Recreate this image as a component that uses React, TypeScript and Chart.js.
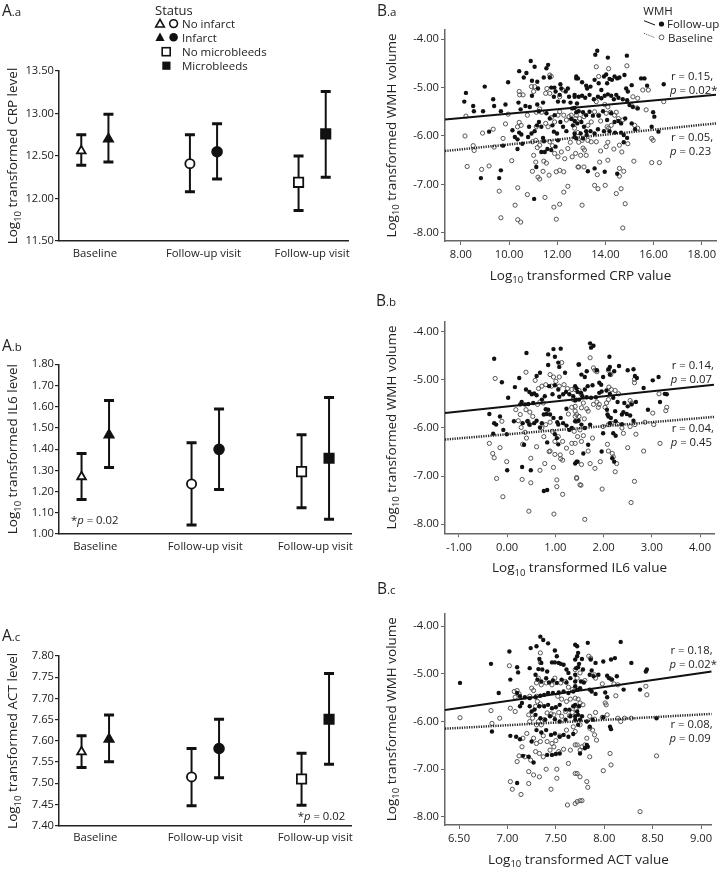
import React, { useEffect, useRef } from 'react';
import { Chart, registerables } from 'chart.js';
Chart.register(...registerables);

const FONT = '"Open Sans", "Noto Sans", sans-serif';
const TEXT = '#222';

// ---------- A panels: group means with error bars ----------
const GROUPS = ['Baseline', 'Follow-up visit', 'Follow-up visit'];
const GROUP_OF = [0, 0, 1, 1, 2, 2];
const SIDE = [-1, 1, -1, 1, -1, 1];
const MARKERS = ['triangle', 'triangle', 'circle', 'circle', 'rect', 'rect'];
const FILLED = [false, true, false, true, false, true];
const MARKER_RADIUS = [5, 5.3, 4.6, 4.9, 6.6, 6.6];

const CRP_MEAN = [12.56, 12.70, 12.41, 12.55, 12.19, 12.76];
const CRP_LOW = [12.39, 12.43, 12.08, 12.23, 11.86, 12.25];
const CRP_HIGH = [12.75, 12.99, 12.75, 12.88, 12.50, 13.26];
const CRP_TICKS = [11.5, 12.0, 12.5, 13.0, 13.5];

const IL6_MEAN = [1.27, 1.467, 1.236, 1.399, 1.294, 1.357];
const IL6_LOW = [1.163, 1.313, 1.042, 1.21, 1.124, 1.069];
const IL6_HIGH = [1.379, 1.629, 1.43, 1.589, 1.468, 1.644];
const IL6_TICKS = [1.0, 1.1, 1.2, 1.3, 1.4, 1.5, 1.6, 1.7, 1.8];

const ACT_MEAN = [7.574, 7.604, 7.515, 7.582, 7.510, 7.651];
const ACT_LOW = [7.537, 7.551, 7.447, 7.513, 7.448, 7.545];
const ACT_HIGH = [7.612, 7.661, 7.582, 7.651, 7.571, 7.759];
const ACT_TICKS = [7.40, 7.45, 7.50, 7.55, 7.60, 7.65, 7.70, 7.75, 7.80];

// ---------- B panels: scatter of WMH volume ----------
const WMH_TICKS = [-8, -7, -6, -5, -4];
const CRP_X_TICKS = [8, 10, 12, 14, 16, 18];
const IL6_X_TICKS = [-1, 0, 1, 2, 3, 4];
const ACT_X_TICKS = [6.5, 7, 7.5, 8, 8.5, 9];

const CRP_FOLLOWUP = [
[8.21,-5.11],[8.14,-5.29],[8.51,-5.38],[8.54,-5.49],[8.99,-4.98],[8.92,-5.49],[9.34,-5.24],[9.38,-5.38],[9.66,-5.49],[9.85,-5.35],[9.96,-4.89],[10.42,-4.66],[10.61,-4.79],[10.72,-4.70],[10.90,-4.45],[11.06,-4.57],[10.39,-5.31],[10.48,-5.45],[10.68,-5.38],[10.95,-4.86],[11.17,-4.88],[11.20,-5.02],[10.95,-5.17],[10.86,-5.40],[11.17,-5.35],[11.24,-5.49],[11.41,-5.31],[11.55,-4.60],[11.62,-4.53],[11.44,-4.79],[11.69,-4.79],[11.75,-5.00],[11.88,-5.00],[11.93,-5.08],[11.86,-5.19],[12.03,-5.29],[12.10,-5.15],[12.13,-4.93],[12.17,-5.02],[12.27,-5.29],[12.35,-5.08],[12.44,-5.02],[12.49,-5.19],[12.55,-5.31],[12.62,-5.43],[12.79,-4.81],[12.72,-5.19],[12.82,-5.33],[12.79,-5.51],[10.14,-5.88],[10.24,-6.02],[10.42,-5.93],[10.51,-5.97],[10.35,-6.07],[10.55,-6.16],[10.79,-6.02],[10.83,-5.81],[10.93,-5.95],[11.06,-5.90],[11.16,-5.78],[11.24,-5.71],[11.34,-5.81],[11.41,-6.04],[11.55,-5.53],[11.69,-5.64],[11.80,-5.78],[11.86,-5.91],[11.99,-5.95],[12.03,-6.09],[11.93,-6.22],[11.75,-6.29],[11.48,-6.33],[11.34,-6.33],[11.45,-6.11],[11.59,-6.27],[11.89,-5.57],[12.13,-5.71],[12.24,-5.81],[12.38,-5.90],[12.58,-5.65],[12.65,-5.78],[12.72,-5.95],[12.79,-6.05],[10.35,-6.27],[9.17,-5.91],[9.75,-6.20],[9.66,-6.71],[9.59,-6.87],[8.83,-6.87],[11.04,-7.30],[11.13,-6.64],
[13.66,-4.24],[13.58,-4.32],[14.10,-4.38],[14.89,-4.34],[12.79,-4.77],[12.86,-4.81],[13.03,-4.89],[13.20,-4.96],[13.24,-5.02],[13.38,-4.98],[13.55,-4.84],[13.72,-4.91],[13.83,-5.05],[13.94,-4.77],[14.03,-4.73],[14.07,-4.91],[14.17,-4.82],[14.27,-4.84],[14.38,-4.77],[14.49,-4.81],[14.58,-4.79],[14.79,-4.74],[14.86,-5.02],[14.93,-5.08],[15.09,-4.95],[15.48,-4.81],[15.62,-4.81],[15.73,-4.96],[16.42,-4.93],[12.72,-5.15],[12.89,-5.19],[13.03,-5.17],[13.16,-5.21],[13.34,-5.15],[13.52,-5.24],[13.69,-5.19],[13.83,-5.22],[13.97,-5.17],[14.10,-5.14],[14.24,-5.17],[14.35,-5.24],[14.45,-5.15],[14.54,-5.21],[14.72,-5.24],[14.90,-5.26],[15.00,-5.36],[15.14,-5.40],[15.34,-5.43],[12.72,-5.42],[12.89,-5.49],[13.07,-5.51],[13.20,-5.57],[13.34,-5.50],[13.48,-5.58],[13.72,-5.58],[13.90,-5.49],[14.07,-5.67],[14.24,-5.53],[14.38,-5.71],[14.54,-5.69],[14.65,-5.74],[14.82,-5.64],[15.09,-5.74],[15.23,-5.86],[15.98,-5.51],[16.03,-5.60],[12.72,-5.69],[12.83,-5.74],[13.00,-5.71],[13.11,-5.81],[13.20,-5.90],[13.38,-5.90],[13.55,-5.95],[13.69,-5.86],[13.94,-5.90],[14.17,-5.90],[14.40,-5.93],[14.65,-5.93],[14.76,-5.98],[14.90,-6.04],[14.76,-6.13],[15.92,-5.81],[16.20,-5.91],[12.72,-6.02],[12.97,-5.95],[13.07,-6.05],[13.22,-5.98],[13.27,-6.73],[13.55,-6.67],[13.97,-6.74],[14.49,-6.78]
];
const CRP_BASELINE = [
[8.17,-6.00],[8.21,-5.59],[8.51,-6.20],[8.55,-6.30],[8.26,-6.63],[8.90,-5.94],[9.34,-5.86],[8.86,-6.69],[9.17,-6.62],[9.38,-6.23],[9.75,-6.05],[9.85,-5.75],[9.96,-5.55],[9.59,-7.14],[9.66,-7.69],[10.11,-6.51],[10.36,-7.07],[10.25,-7.43],[10.36,-7.73],[10.48,-7.78],[10.76,-7.21],[10.35,-5.81],[10.42,-5.72],[10.50,-5.78],[10.44,-5.15],[10.58,-5.15],[10.42,-5.08],[10.93,-4.98],[11.06,-4.98],[11.02,-5.08],[10.76,-5.57],[11.13,-5.51],[11.27,-5.44],[11.35,-5.51],[10.97,-6.12],[11.11,-6.09],[11.17,-6.24],[11.27,-6.19],[11.02,-6.40],[11.11,-6.54],[11.20,-6.85],[11.27,-6.89],[11.44,-6.52],[11.55,-6.56],[10.97,-6.73],[11.41,-6.73],[11.66,-6.81],[11.96,-6.74],[12.10,-6.71],[12.27,-6.74],[11.49,-7.27],[11.86,-7.47],[12.10,-7.41],[12.27,-7.16],[12.44,-7.04],[11.96,-7.72],[11.69,-6.12],[11.80,-6.20],[11.89,-6.36],[12.03,-6.43],[12.17,-6.33],[12.31,-6.47],[12.44,-6.26],[12.54,-6.13],[12.62,-6.43],[12.76,-6.36],[12.86,-6.64],[11.52,-5.74],[11.62,-5.81],[11.75,-5.62],[11.89,-5.71],[12.03,-5.57],[12.10,-5.50],[12.27,-5.57],[12.38,-5.67],[12.49,-5.60],[12.58,-5.57],[12.76,-5.64],[11.52,-5.12],[11.69,-5.12],[11.57,-5.02],[11.69,-4.74],[11.75,-4.77],[12.10,-5.19],[12.24,-5.05],[11.13,-5.81],
[13.62,-4.57],[13.72,-4.77],[14.13,-4.61],[14.89,-4.55],[15.55,-5.05],[15.78,-5.05],[15.14,-5.19],[15.34,-5.22],[15.07,-5.36],[15.31,-5.42],[15.69,-5.46],[16.42,-5.29],[13.62,-5.29],[13.97,-5.35],[14.10,-5.40],[12.79,-5.57],[12.93,-5.64],[13.11,-5.60],[13.27,-5.78],[13.41,-5.71],[13.55,-5.50],[13.72,-5.57],[13.80,-5.69],[14.03,-5.53],[14.21,-5.51],[14.38,-5.57],[14.45,-5.51],[14.54,-5.64],[14.72,-5.67],[14.07,-5.81],[14.13,-5.84],[14.24,-5.78],[12.72,-5.84],[12.86,-5.93],[13.03,-6.09],[13.07,-6.25],[13.13,-6.29],[12.97,-6.40],[13.20,-6.40],[12.89,-6.13],[13.27,-6.09],[13.41,-6.12],[13.62,-6.12],[13.80,-6.31],[14.03,-6.22],[14.10,-6.13],[14.35,-6.27],[14.58,-6.19],[14.68,-6.33],[14.93,-6.16],[15.18,-6.52],[15.92,-6.55],[16.24,-6.55],[15.92,-6.05],[15.98,-6.09],[13.76,-6.54],[14.10,-6.50],[12.89,-6.64],[13.11,-6.64],[13.66,-6.80],[13.55,-7.02],[13.69,-7.09],[13.99,-7.02],[14.58,-6.67],[14.76,-6.73],[14.58,-6.83],[14.45,-7.19],[14.65,-7.09],[13.03,-7.43],[14.82,-7.40],[14.72,-7.90],[15.21,-5.78],[15.34,-5.84]
];
const CRP_FIT_FOLLOWUP = [[7.34, -5.66], [18.59, -5.15]];
const CRP_FIT_BASELINE = [[7.34, -6.31], [18.59, -5.74]];

const IL6_FOLLOWUP = [
[-0.27,-4.56],[-0.11,-5.05],[0.16,-5.15],[0.25,-4.96],[0.02,-5.37],[0.39,-5.20],[0.46,-5.25],[0.51,-5.30],[0.56,-5.28],[0.61,-5.32],[0.30,-5.46],[0.27,-5.51],[0.37,-5.51],[0.44,-5.50],[0.54,-5.48],[0.72,-5.41],[0.78,-5.34],[0.87,-5.13],[0.94,-5.30],[0.99,-5.11],[1.06,-5.20],[1.08,-5.35],[1.16,-5.30],[1.22,-5.25],[1.29,-5.30],[1.37,-5.34],[1.44,-5.18],[1.48,-4.68],[1.20,-4.85],[1.08,-4.73],[0.85,-4.69],[0.68,-4.85],[0.61,-4.92],[0.40,-4.44],[0.85,-4.47],[0.96,-4.36],[1.11,-4.35],[0.99,-4.52],[1.06,-4.64],[-0.37,-5.71],[-0.27,-5.90],[-0.23,-5.93],[-0.15,-5.76],[-0.08,-6.04],[-0.29,-6.12],[-0.01,-6.13],[0.14,-5.86],[0.32,-5.90],[0.42,-5.86],[0.46,-5.93],[0.56,-5.90],[0.61,-5.85],[0.68,-5.99],[0.72,-5.90],[0.76,-5.72],[0.82,-5.71],[0.85,-5.62],[0.89,-5.72],[0.80,-5.61],[0.96,-5.79],[1.04,-5.88],[1.06,-5.93],[1.11,-5.79],[1.16,-5.90],[1.23,-5.95],[1.29,-6.04],[1.34,-6.00],[1.03,-6.21],[0.99,-6.13],[0.83,-6.30],[1.06,-6.34],[0.35,-6.35],[0.00,-6.88],[0.31,-6.81],[0.49,-6.88],[0.76,-7.31],[0.83,-7.29],[1.44,-6.70],[1.23,-5.60],[1.43,-5.41],
[1.72,-4.24],[1.79,-4.29],[1.74,-4.33],[1.49,-4.68],[1.54,-4.89],[1.65,-4.82],[1.61,-4.94],[1.67,-5.13],[1.77,-5.11],[1.86,-4.80],[1.91,-5.06],[1.95,-5.10],[1.99,-4.94],[2.10,-4.78],[2.13,-4.73],[2.12,-4.52],[2.13,-4.89],[2.22,-4.82],[2.32,-4.71],[2.50,-4.80],[2.62,-4.78],[2.65,-4.92],[2.69,-4.96],[2.83,-5.17],[3.02,-5.01],[3.14,-4.94],[1.41,-5.13],[1.46,-5.25],[1.53,-5.27],[1.61,-5.20],[1.41,-5.43],[1.49,-5.41],[1.56,-5.34],[1.65,-5.36],[1.74,-5.37],[1.84,-5.36],[1.91,-5.27],[1.96,-5.24],[2.06,-5.22],[2.13,-5.29],[2.20,-5.37],[2.29,-5.46],[2.43,-5.48],[2.50,-5.55],[2.58,-5.51],[2.67,-5.46],[2.41,-5.67],[2.38,-5.72],[2.48,-5.71],[2.55,-5.74],[2.24,-5.65],[2.07,-5.62],[2.08,-5.72],[2.10,-5.76],[2.15,-5.79],[2.13,-5.90],[2.25,-5.86],[2.38,-5.92],[2.62,-5.85],[2.92,-5.62],[3.17,-5.46],[3.27,-5.29],[3.31,-5.30],[1.41,-5.86],[1.48,-5.85],[1.54,-5.93],[1.61,-6.00],[1.72,-5.93],[1.99,-6.11],[2.20,-6.11],[2.25,-6.16],[1.68,-6.35],[1.58,-6.53],[1.46,-6.70],[1.41,-6.74],[1.96,-6.49],[2.18,-6.63],[2.22,-6.70]
];
const IL6_BASELINE = [
[-0.25,-4.97],[-0.37,-6.32],[-0.30,-6.53],[-0.27,-6.62],[-0.15,-6.41],[-0.11,-5.86],[-0.22,-7.05],[-0.01,-6.70],[-0.09,-7.43],[0.18,-5.62],[0.27,-5.72],[0.23,-5.85],[0.29,-5.99],[0.37,-6.09],[0.40,-6.21],[0.32,-6.34],[0.43,-5.86],[0.47,-5.93],[0.39,-5.62],[0.47,-5.67],[0.53,-5.76],[0.63,-5.51],[0.68,-5.46],[0.75,-5.48],[0.72,-6.00],[0.80,-5.93],[0.89,-5.88],[0.94,-6.07],[0.99,-6.28],[0.89,-6.48],[0.99,-6.55],[1.10,-6.56],[1.11,-6.64],[1.15,-6.67],[1.34,-6.51],[0.78,-6.74],[0.68,-6.88],[0.49,-6.63],[0.96,-6.82],[1.03,-7.08],[1.03,-7.22],[1.15,-7.38],[1.44,-7.03],[1.51,-7.18],[0.49,-7.14],[0.31,-7.07],[0.45,-7.73],[0.97,-7.79],[0.39,-4.84],[0.58,-5.01],[0.65,-5.18],[0.72,-5.13],[0.80,-5.10],[0.89,-4.89],[0.96,-4.94],[1.01,-5.03],[1.08,-4.94],[1.13,-4.64],[0.92,-5.13],[1.08,-5.13],[1.18,-5.10],[1.25,-5.18],[1.34,-5.20],[1.37,-5.41],[1.41,-5.55],[1.34,-5.57],[1.27,-5.71],[1.41,-5.76],[1.44,-5.86],[1.39,-6.07],[1.46,-6.18],[1.34,-6.32],[1.23,-6.42],[1.15,-6.28],[1.06,-6.18],[0.76,-6.18],[0.61,-6.39],[0.87,-6.49],
[1.72,-4.54],[1.79,-4.75],[1.82,-4.80],[1.86,-4.83],[2.10,-4.80],[2.15,-4.89],[2.11,-5.15],[2.16,-5.20],[2.24,-5.22],[2.31,-5.29],[2.64,-4.99],[2.64,-5.06],[1.41,-5.20],[1.49,-5.22],[1.53,-5.29],[1.58,-5.48],[1.54,-5.58],[1.65,-5.60],[1.68,-5.65],[1.79,-5.51],[1.86,-5.46],[1.91,-5.51],[1.89,-5.57],[2.03,-5.57],[2.06,-5.48],[2.10,-5.41],[2.55,-5.43],[2.58,-5.48],[3.02,-5.69],[3.15,-5.29],[3.31,-5.57],[3.29,-5.64],[1.41,-5.65],[1.44,-5.72],[1.49,-5.76],[1.60,-5.81],[1.51,-6.04],[1.58,-6.16],[1.54,-6.28],[1.41,-6.32],[1.68,-6.48],[1.77,-6.21],[1.99,-5.97],[2.10,-5.93],[2.16,-5.90],[2.29,-5.92],[2.38,-6.00],[2.41,-6.11],[2.55,-5.97],[2.65,-5.93],[2.67,-6.13],[2.86,-5.88],[3.04,-5.93],[3.17,-6.32],[2.83,-6.48],[2.50,-6.41],[2.08,-6.34],[2.10,-6.48],[2.18,-6.53],[2.20,-6.60],[2.27,-6.74],[2.24,-6.91],[1.93,-6.70],[1.82,-6.84],[1.72,-6.74],[1.54,-6.76],[1.44,-7.05],[1.53,-7.19],[1.97,-7.27],[2.64,-7.11],[2.57,-7.55],[1.61,-7.90]
];
const IL6_FIT_FOLLOWUP = [[-1.29, -5.69], [4.29, -5.10]];
const IL6_FIT_BASELINE = [[-1.29, -6.24], [4.29, -5.77]];

const ACT_FOLLOWUP = [
[6.51,-5.19],[6.83,-4.79],[6.91,-5.40],[7.02,-4.53],[7.03,-5.12],[7.10,-4.86],[7.11,-4.97],[7.24,-4.46],[7.23,-4.88],[7.34,-4.22],[7.37,-4.29],[7.42,-4.36],[7.30,-4.42],[7.33,-4.69],[7.35,-4.77],[7.32,-4.90],[7.36,-4.91],[7.41,-4.95],[7.46,-4.76],[7.49,-4.76],[7.53,-4.77],[7.55,-4.79],[7.58,-4.81],[7.61,-4.91],[7.63,-4.98],[7.49,-4.51],[7.51,-4.63],[7.72,-4.42],[7.72,-4.63],[7.71,-4.88],[7.29,-5.02],[7.31,-5.12],[7.35,-5.16],[7.40,-5.09],[7.43,-5.18],[7.47,-5.14],[7.51,-5.19],[7.56,-5.12],[7.61,-5.18],[7.65,-5.09],[7.70,-5.16],[7.10,-5.40],[7.13,-5.47],[7.18,-5.49],[7.23,-5.51],[7.29,-5.49],[7.34,-5.46],[7.38,-5.44],[7.42,-5.40],[7.47,-5.40],[7.53,-5.39],[7.58,-5.37],[7.63,-5.40],[7.68,-5.37],[7.15,-5.61],[7.13,-5.68],[7.23,-5.68],[7.28,-5.75],[7.33,-5.68],[7.38,-5.68],[7.42,-5.65],[7.46,-5.72],[7.50,-5.70],[7.54,-5.65],[7.60,-5.75],[7.64,-5.75],[7.68,-5.68],[7.25,-5.79],[7.29,-5.86],[7.34,-5.93],[7.39,-5.96],[7.44,-5.89],[7.49,-5.95],[7.54,-6.00],[7.60,-5.96],[7.65,-5.89],[7.70,-5.96],[7.73,-5.86],[6.84,-6.21],[7.03,-6.30],[7.09,-6.32],[7.13,-6.37],[7.25,-6.42],[7.30,-6.18],[7.35,-6.23],[7.40,-6.18],[7.45,-6.28],[7.49,-6.25],[7.54,-6.32],[7.58,-6.28],[7.63,-6.32],[7.68,-6.26],[7.16,-6.72],[7.22,-6.74],[7.27,-6.86],[7.41,-6.70],[7.46,-6.70],[7.50,-6.68],[7.54,-6.67],[7.10,-7.29],
[7.83,-4.35],[7.70,-4.39],[7.73,-4.56],[7.77,-4.69],[7.70,-4.70],[7.74,-4.79],[7.73,-4.86],[7.78,-4.91],[7.70,-5.02],[7.76,-5.16],[7.79,-5.18],[7.86,-4.70],[7.91,-4.77],[7.99,-4.74],[8.07,-4.70],[8.11,-4.67],[8.17,-4.33],[8.28,-4.77],[8.44,-4.91],[8.43,-4.95],[7.87,-4.93],[7.85,-5.02],[7.89,-5.05],[7.94,-5.02],[8.03,-5.04],[8.05,-5.09],[8.08,-5.12],[8.13,-5.05],[7.70,-5.26],[7.75,-5.30],[7.72,-5.33],[7.85,-5.33],[7.87,-5.37],[7.91,-5.42],[8.01,-5.39],[8.03,-5.49],[8.20,-5.33],[8.37,-5.33],[7.70,-5.65],[7.74,-5.68],[7.72,-5.79],[7.77,-5.89],[7.70,-5.89],[7.75,-5.96],[7.82,-6.00],[7.73,-6.07],[7.85,-6.11],[7.88,-5.96],[7.99,-5.91],[8.06,-6.11],[8.07,-6.16],[8.54,-5.93],[7.82,-6.49],[7.75,-6.67],[7.80,-6.56],[7.83,-6.53]
];
const ACT_BASELINE = [
[6.51,-5.92],[6.83,-5.77],[6.84,-6.04],[6.92,-5.93],[7.02,-4.83],[7.07,-5.37],[7.08,-5.49],[7.10,-5.35],[7.12,-5.42],[7.03,-5.72],[7.08,-5.79],[7.23,-5.47],[7.25,-5.30],[7.27,-5.35],[7.30,-5.19],[7.32,-5.09],[7.35,-5.23],[7.30,-5.47],[7.31,-5.58],[7.34,-5.63],[7.29,-5.68],[7.22,-5.86],[7.23,-6.00],[7.26,-5.93],[7.30,-6.07],[7.32,-6.00],[7.35,-6.07],[7.38,-5.96],[7.41,-5.82],[7.45,-5.84],[7.48,-5.86],[7.53,-5.81],[7.56,-5.89],[7.60,-5.79],[7.64,-5.88],[7.67,-5.81],[7.71,-5.75],[7.34,-4.56],[7.34,-4.76],[7.40,-5.19],[7.46,-5.23],[7.49,-5.09],[7.55,-5.19],[7.60,-5.16],[7.63,-5.28],[7.67,-5.33],[7.70,-5.51],[7.52,-5.47],[7.56,-5.53],[7.61,-5.58],[7.65,-5.53],[7.20,-6.25],[7.16,-6.35],[7.27,-6.35],[7.30,-6.46],[7.34,-6.42],[7.37,-6.30],[7.41,-6.42],[7.46,-6.46],[7.50,-6.40],[7.54,-6.30],[7.61,-6.18],[7.68,-6.11],[7.15,-6.53],[7.12,-6.72],[7.18,-6.74],[7.24,-6.81],[7.29,-6.63],[7.33,-6.67],[7.37,-6.74],[7.44,-6.60],[7.48,-6.53],[7.53,-6.63],[7.58,-6.58],[7.65,-6.60],[7.72,-6.49],[7.10,-6.84],[7.22,-7.05],[7.27,-7.12],[7.33,-7.16],[7.40,-7.00],[7.51,-7.00],[7.63,-6.88],[7.72,-7.09],[7.03,-7.26],[7.05,-7.42],[7.14,-7.53],[7.51,-7.19],[7.62,-7.75],[7.70,-7.72],[7.75,-7.66],[7.45,-7.42],[7.22,-7.30],
[7.84,-4.63],[7.86,-4.67],[8.07,-5.11],[7.70,-4.91],[7.72,-5.09],[7.75,-4.98],[7.80,-5.14],[7.90,-5.02],[7.91,-5.09],[7.98,-5.21],[8.10,-5.21],[8.14,-5.23],[8.43,-5.26],[8.44,-5.44],[8.12,-5.46],[8.02,-5.65],[8.01,-5.61],[7.73,-5.53],[7.75,-5.61],[7.78,-5.65],[7.91,-5.81],[7.85,-5.89],[7.90,-5.95],[7.98,-5.91],[8.03,-5.86],[8.14,-5.93],[8.17,-6.00],[8.21,-5.93],[8.28,-5.93],[7.70,-6.21],[7.75,-6.07],[7.85,-6.14],[7.88,-6.18],[7.90,-6.28],[7.92,-6.39],[7.82,-6.35],[7.77,-6.53],[7.80,-6.49],[7.85,-6.74],[7.75,-6.60],[7.70,-6.49],[8.06,-6.67],[8.07,-6.91],[7.99,-7.03],[8.54,-6.72],[7.70,-7.09],[7.75,-7.16],[7.82,-7.26],[7.83,-7.38],[7.72,-7.68],[7.77,-7.66],[8.37,-7.89]
];
const ACT_FIT_FOLLOWUP = [[6.355, -5.76], [9.11, -4.95]];
const ACT_FIT_BASELINE = [[6.355, -6.15], [9.11, -5.84]];

// ---------- layout (page pixel boxes) ----------
const A_PANELS = [
  { box: { x: 0, y: 0, w: 360, h: 290 }, area: { l: 59, t: 71, r: 348, b: 241 }, yMin: 11.5, yMax: 13.5, yTicks: CRP_TICKS, mean: CRP_MEAN, low: CRP_LOW, high: CRP_HIGH, yTitle: ' transformed CRP level' },
  { box: { x: 0, y: 290, w: 360, h: 290 }, area: { l: 59, t: 364.3, r: 353, b: 534 }, yMin: 1.0, yMax: 1.8, yTicks: IL6_TICKS, mean: IL6_MEAN, low: IL6_LOW, high: IL6_HIGH, yTitle: ' transformed IL6 level' },
  { box: { x: 0, y: 580, w: 360, h: 291 }, area: { l: 59, t: 656, r: 358.5, b: 825.7 }, yMin: 7.4, yMax: 7.8, yTicks: ACT_TICKS, mean: ACT_MEAN, low: ACT_LOW, high: ACT_HIGH, yTitle: ' transformed ACT level' },
];
const B_PANELS = [
  { box: { x: 360, y: 0, w: 361, h: 290 }, area: { l: 445, t: 30, r: 717, b: 241 }, xMin: 7.34, xMax: 18.59, xTicks: CRP_X_TICKS, yMin: -8.17, yMax: -3.81, follow: CRP_FOLLOWUP, base: CRP_BASELINE, fitF: CRP_FIT_FOLLOWUP, fitB: CRP_FIT_BASELINE, xTitle: ' transformed CRP value' },
  { box: { x: 360, y: 290, w: 361, h: 295 }, area: { l: 445, t: 321.7, r: 714, b: 533.3 }, xMin: -1.29, xMax: 4.29, xTicks: IL6_X_TICKS, yMin: -8.19, yMax: -3.79, follow: IL6_FOLLOWUP, base: IL6_BASELINE, fitF: IL6_FIT_FOLLOWUP, fitB: IL6_FIT_BASELINE, xTitle: ' transformed IL6 value' },
  { box: { x: 360, y: 585, w: 361, h: 286 }, area: { l: 445, t: 613.3, r: 711.7, b: 825 }, xMin: 6.355, xMax: 9.11, xTicks: ACT_X_TICKS, yMin: -8.17, yMax: -3.73, follow: ACT_FOLLOWUP, base: ACT_BASELINE, fitF: ACT_FIT_FOLLOWUP, fitB: ACT_FIT_BASELINE, xTitle: ' transformed ACT value' },
];
const ALL_BOXES = [...A_PANELS.map(p => p.box), ...B_PANELS.map(p => p.box)];

const DODGE = 0.125;
const YW = 50;
const XH = 30;

function drawLogText(ctx: CanvasRenderingContext2D, cx: number, cy: number, rest: string, rotate: boolean) {
  ctx.save();
  ctx.translate(cx, cy);
  if (rotate) ctx.rotate(-Math.PI / 2);
  const main = `13.5px ${FONT}`;
  const sub = `9.5px ${FONT}`;
  ctx.font = main;
  const w1 = ctx.measureText('Log').width;
  const w3 = ctx.measureText(rest).width;
  ctx.font = sub;
  const w2 = ctx.measureText('10').width;
  let x = -(w1 + w2 + w3) / 2;
  ctx.fillStyle = TEXT;
  ctx.textBaseline = 'middle';
  ctx.textAlign = 'left';
  ctx.font = main; ctx.fillText('Log', x, 0); x += w1;
  ctx.font = sub; ctx.fillText('10', x, 4.5); x += w2;
  ctx.font = main; ctx.fillText(rest, x, 0);
  ctx.restore();
}

function paddingFor(box: any, area: any) {
  return { left: area.l - box.x - YW, top: area.t - box.y, right: box.x + box.w - area.r, bottom: box.y + box.h - area.b - XH };
}

const fixedTicks = (vals: number[]) => (s: any) => { s.ticks = vals.map(v => ({ value: v })); };

function makeErrorChart(canvas: HTMLCanvasElement, p: any) {
  const pts = p.mean.map((m: number, i: number) => ({ x: GROUP_OF[i] + SIDE[i] * DODGE, y: m, lo: p.low[i], hi: p.high[i] }));
  const errPlugin = {
    id: 'errbars',
    beforeDatasetsDraw(chart: any) {
      const { ctx, scales: { x, y } } = chart;
      ctx.save();
      ctx.strokeStyle = '#111';
      pts.forEach((pt: any) => {
        const px = x.getPixelForValue(pt.x);
        const y1 = y.getPixelForValue(pt.lo);
        const y2 = y.getPixelForValue(pt.hi);
        ctx.lineWidth = 2;
        ctx.beginPath(); ctx.moveTo(px, y1); ctx.lineTo(px, y2); ctx.stroke();
        ctx.lineWidth = 3;
        ctx.beginPath();
        ctx.moveTo(px - 5, y1); ctx.lineTo(px + 5, y1);
        ctx.moveTo(px - 5, y2); ctx.lineTo(px + 5, y2);
        ctx.stroke();
      });
      ctx.restore();
    },
    afterDraw(chart: any) {
      const ca = chart.chartArea;
      drawLogText(chart.ctx, ca.left - 45.7, (ca.top + ca.bottom) / 2, p.yTitle, true);
    },
  };
  return new Chart(canvas, {
    type: 'scatter',
    data: {
      datasets: [{
        data: pts,
        pointStyle: MARKERS as any,
        pointRadius: MARKER_RADIUS,
        pointBackgroundColor: FILLED.map(f => (f ? '#111' : '#fff')),
        pointBorderColor: '#111',
        pointBorderWidth: 1.8,
        showLine: false,
      }],
    },
    options: {
      responsive: false, animation: false, devicePixelRatio: 1, events: [],
      layout: { padding: paddingFor(p.box, p.area) },
      plugins: { legend: { display: false }, tooltip: { enabled: false } },
      scales: {
        x: {
          type: 'linear', min: -0.33, max: 2.33,
          afterBuildTicks: fixedTicks([0, 1, 2]),
          afterFit: (s: any) => { s.height = XH; },
          ticks: { callback: (v: any) => GROUPS[v] ?? '', autoSkip: false, maxRotation: 0, padding: 5.5, color: TEXT, font: { family: FONT, size: 11.3 } },
          grid: { display: false, drawTicks: false },
          border: { display: true, color: '#222', width: 1.5 },
        },
        y: {
          type: 'linear', min: p.yMin, max: p.yMax,
          afterBuildTicks: fixedTicks(p.yTicks),
          afterFit: (s: any) => { s.width = YW; },
          ticks: { callback: (v: any) => Number(v).toFixed(2), padding: 1, color: TEXT, font: { family: FONT, size: 11.2 } },
          grid: { display: true, drawOnChartArea: false, drawTicks: true, tickLength: 4, color: '#222', lineWidth: 1.2 },
          border: { display: true, color: '#222', width: 1.5 },
        },
      },
    } as any,
    plugins: [errPlugin],
  });
}

function makeScatterChart(canvas: HTMLCanvasElement, p: any) {
  const titlePlugin = {
    id: 'titles',
    afterDraw(chart: any) {
      const ca = chart.chartArea;
      drawLogText(chart.ctx, ca.left - 53.3, (ca.top + ca.bottom) / 2, ' transformed WMH volume', true);
      drawLogText(chart.ctx, (ca.left + ca.right) / 2, ca.bottom + 35, p.xTitle, false);
    },
  };
  return new Chart(canvas, {
    type: 'scatter',
    data: {
      datasets: [
        { data: p.fitF, showLine: true, borderColor: '#111', borderWidth: 2, pointRadius: 0, order: 0 },
        { data: p.fitB, showLine: true, borderColor: '#222', borderWidth: 2.5, borderDash: [1.2, 1.2], pointRadius: 0, order: 1 },
        { data: p.follow, pointRadius: 2.2, pointBackgroundColor: '#111', pointBorderColor: '#111', pointBorderWidth: 0, order: 2 },
        { data: p.base, pointRadius: 2.1, pointBackgroundColor: 'rgba(255,255,255,0)', pointBorderColor: '#555', pointBorderWidth: 1, order: 3 },
      ],
    },
    options: {
      responsive: false, animation: false, devicePixelRatio: 1, events: [],
      layout: { padding: paddingFor(p.box, p.area) },
      plugins: { legend: { display: false }, tooltip: { enabled: false } },
      scales: {
        x: {
          type: 'linear', min: p.xMin, max: p.xMax,
          afterBuildTicks: fixedTicks(p.xTicks),
          afterFit: (s: any) => { s.height = XH; },
          ticks: { callback: (v: any) => Number(v).toFixed(2), autoSkip: false, maxRotation: 0, padding: 3.4, color: TEXT, font: { family: FONT, size: 11.2 } },
          grid: { display: true, drawOnChartArea: false, drawTicks: true, tickLength: 4, color: '#666', lineWidth: 1 },
          border: { display: true, color: '#666', width: 1.5 },
        },
        y: {
          type: 'linear', min: p.yMin, max: p.yMax,
          afterBuildTicks: fixedTicks(WMH_TICKS),
          afterFit: (s: any) => { s.width = YW; },
          ticks: { callback: (v: any) => Number(v).toFixed(2), padding: 2, color: TEXT, font: { family: FONT, size: 11.2 } },
          grid: { display: true, drawOnChartArea: false, drawTicks: true, tickLength: 4, color: '#666', lineWidth: 1 },
          border: { display: true, color: '#666', width: 1.5 },
        },
      },
    } as any,
    plugins: [titlePlugin],
  });
}

function PanelLabel({ x, y, big, small }: any) {
  return (
    <text x={x} y={y} fill={TEXT}>
      <tspan fontSize={15.5}>{big}</tspan>
      <tspan fontSize={11.5}>{small}</tspan>
    </text>
  );
}

function Stat({ x, y, r, p }: any) {
  return (
    <g fontSize={11.3} fill={TEXT}>
      <text x={x} y={y}>{r}</text>
      <text x={x - 1} y={y + 14.2}><tspan fontStyle="italic">p</tspan>{' = ' + p}</text>
    </g>
  );
}

export default function App() {
  const refs = useRef<(HTMLCanvasElement | null)[]>([]);
  useEffect(() => {
    const charts: Chart[] = [];
    A_PANELS.forEach((p, i) => { const c = refs.current[i]; if (c) charts.push(makeErrorChart(c, p)); });
    B_PANELS.forEach((p, i) => { const c = refs.current[3 + i]; if (c) charts.push(makeScatterChart(c, p)); });
    return () => charts.forEach(c => c.destroy());
  }, []);

  return (
    <div style={{ position: 'absolute', left: 0, top: 0, width: 721, height: 871, background: '#fff', overflow: 'hidden' }}>
      {ALL_BOXES.map((b, i) => (
        <canvas key={i} ref={el => { refs.current[i] = el; }} width={b.w} height={b.h}
          style={{ position: 'absolute', left: b.x, top: b.y, width: b.w, height: b.h }} />
      ))}
      <svg width={721} height={871} style={{ position: 'absolute', left: 0, top: 0, pointerEvents: 'none' }} fontFamily={FONT}>
        <PanelLabel x={2} y={15.9} big="A" small=".a" />
        <PanelLabel x={2} y={350.9} big="A" small=".b" />
        <PanelLabel x={2} y={641.2} big="A" small=".c" />
        <PanelLabel x={377} y={15.9} big="B" small=".a" />
        <PanelLabel x={376} y={305.9} big="B" small=".b" />
        <PanelLabel x={377} y={594.4} big="B" small=".c" />

        {/* Status legend */}
        <text x={155} y={14.8} fontSize={13} fill={TEXT}>Status</text>
        <polygon points="160,19.4 164.3,27 155.7,27" fill="#fff" stroke="#111" strokeWidth={1.6} />
        <circle cx={173.6} cy={23.6} r={3.9} fill="#fff" stroke="#111" strokeWidth={1.6} />
        <text x={182} y={28} fontSize={11.5} fill={TEXT}>No infarct</text>
        <polygon points="160,32.6 164.6,41 155.4,41" fill="#111" />
        <circle cx={173.6} cy={37.3} r={4.3} fill="#111" />
        <text x={182} y={41.6} fontSize={11.5} fill={TEXT}>Infarct</text>
        <rect x={162.2} y={47.7} width={8} height={8} fill="#fff" stroke="#111" strokeWidth={1.6} />
        <text x={182} y={55.8} fontSize={11.5} fill={TEXT}>No microbleeds</text>
        <rect x={162.3} y={61.6} width={8.2} height={8.2} fill="#111" />
        <text x={182} y={69.9} fontSize={11.5} fill={TEXT}>Microbleeds</text>

        {/* WMH legend */}
        <text x={643.3} y={15} fontSize={11.5} fill={TEXT}>WMH</text>
        <line x1={644} y1={20.7} x2={655} y2={25} stroke="#111" strokeWidth={1} />
        <circle cx={661.5} cy={24} r={2.6} fill="#111" />
        <text x={667} y={28.1} fontSize={11.5} fill={TEXT}>Follow-up</text>
        <line x1={644} y1={33.3} x2={655} y2={37.7} stroke="#555" strokeWidth={1} strokeDasharray="1,1" />
        <circle cx={661.5} cy={37.3} r={2.4} fill="#fff" stroke="#555" strokeWidth={1} />
        <text x={668} y={41.5} fontSize={11.5} fill={TEXT}>Baseline</text>

        {/* correlation annotations */}
        <Stat x={671} y={80.1} r="r = 0.15," p="0.02*" />
        <Stat x={671} y={141} r="r = 0.05," p="0.23" />
        <Stat x={671.7} y={369.1} r="r = 0.14," p="0.07" />
        <Stat x={671.7} y={431.8} r="r = 0.04," p="0.45" />
        <Stat x={670.5} y={654.1} r="r = 0.18," p="0.02*" />
        <Stat x={670.5} y={728.1} r="r = 0.08," p="0.09" />

        <text x={71} y={524.1} fontSize={11.3} fill={TEXT}>*<tspan fontStyle="italic">p</tspan>{' = 0.02'}</text>
        <text x={297.7} y={819.8} fontSize={11.3} fill={TEXT}>*<tspan fontStyle="italic">p</tspan>{' = 0.02'}</text>
      </svg>
    </div>
  );
}
